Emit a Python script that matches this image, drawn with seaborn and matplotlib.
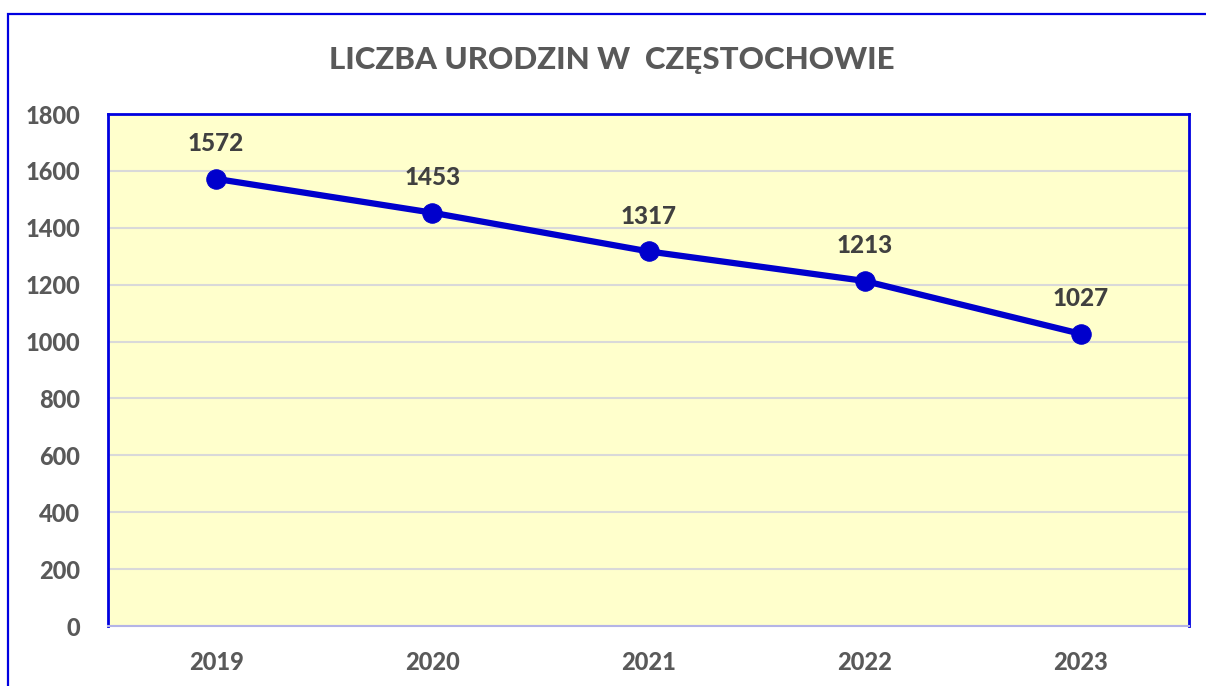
import matplotlib
matplotlib.use("Agg")
import matplotlib.pyplot as plt
import seaborn as sns
import pandas as pd
from matplotlib.patches import Rectangle

years = ["2019", "2020", "2021", "2022", "2023"]
births = [1572, 1453, 1317, 1213, 1027]
yticks = [0, 200, 400, 600, 800, 1000, 1200, 1400, 1600, 1800]
title = "LICZBA URODZIN W  CZĘSTOCHOWIE"

sns.set_style("white")
plt.rcParams['font.family'] = ['Lato', 'DejaVu Sans']

df = pd.DataFrame({"year": years, "births": births})

fig = plt.figure(figsize=(12.06, 6.86), dpi=100)
ax = fig.add_axes([108/1206, 1-626/686, (1189-108)/1206, (626-114)/686])
ax.set_facecolor("#FFFFCC")

sns.lineplot(data=df, x="year", y="births", ax=ax, color="#0000CC", linewidth=4.5,
             marker="o", markersize=14, markeredgecolor="#0000CC", sort=False, zorder=3)

for i, v in enumerate(births):
    ax.annotate(str(v), (i, v), xytext=(0, 17), textcoords="offset points",
                ha="center", va="bottom", fontsize=17.5, fontweight="black", color="#404040")

ax.set_xlim(-0.5, len(years) - 0.5)
ax.set_ylim(0, 1800)
ax.set_yticks(yticks)
ax.set_yticklabels([str(t) for t in yticks])
ax.grid(axis="y", color="#D9D9D9", linewidth=1.5)
ax.set_axisbelow(True)
ax.set_xlabel("")
ax.set_ylabel("")
ax.tick_params(axis="both", length=0, labelsize=17, labelcolor="#595959")
ax.tick_params(axis="y", pad=20)
ax.tick_params(axis="x", pad=18)
for lab in ax.get_xticklabels() + ax.get_yticklabels():
    lab.set_fontweight("black")

for s in ["left", "top", "right"]:
    ax.spines[s].set_color("#0000E0")
    ax.spines[s].set_linewidth(2)
ax.spines["bottom"].set_color("#B4B4E6")
ax.spines["bottom"].set_linewidth(1.5)

fig.text(612/1206, 1-60/686, title, ha="center", va="center", fontsize=22.5,
         fontweight="black", color="#595959")

frame = Rectangle((8/1206, -0.1), 1.2, 1 - 14/686 + 0.1, transform=fig.transFigure,
                  fill=False, edgecolor="#0000E0", linewidth=1.6)
fig.patches.append(frame)

fig.savefig("out.png", dpi=100, facecolor="white")
